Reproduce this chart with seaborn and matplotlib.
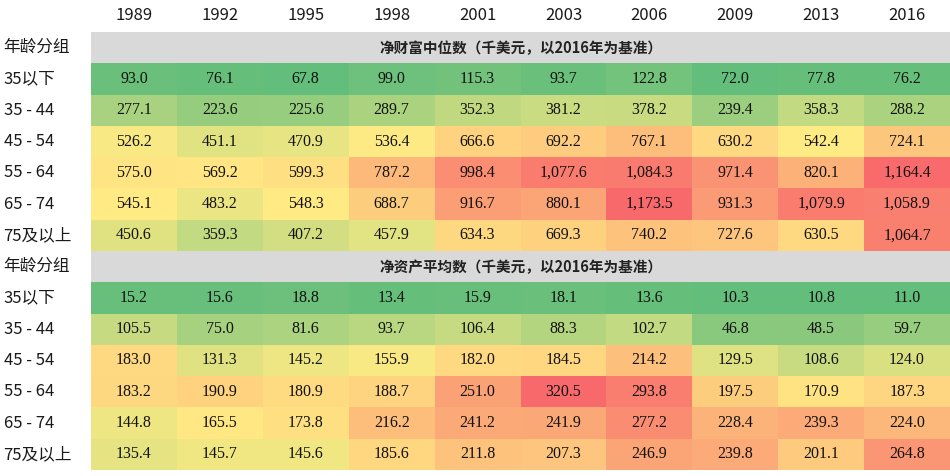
import numpy as np
import pandas as pd
import matplotlib
matplotlib.use("Agg")
import matplotlib.pyplot as plt
from matplotlib.colors import LinearSegmentedColormap, TwoSlopeNorm
import seaborn as sns

sns.set_theme(style="white")
plt.rcParams['font.family'] = ['Noto Sans CJK SC', 'DejaVu Sans']

years = ["1989", "1992", "1995", "1998", "2001", "2003", "2006", "2009", "2013", "2016"]
age_groups = ["35以下", "35 - 44", "45 - 54", "55 - 64", "65 - 74", "75及以上"]
group_header = "年龄分组"
title_1 = "净财富中位数（千美元，以2016年为基准）"
title_2 = "净资产平均数（千美元，以2016年为基准）"

section_1 = [
    [93.0, 76.1, 67.8, 99.0, 115.3, 93.7, 122.8, 72.0, 77.8, 76.2],
    [277.1, 223.6, 225.6, 289.7, 352.3, 381.2, 378.2, 239.4, 358.3, 288.2],
    [526.2, 451.1, 470.9, 536.4, 666.6, 692.2, 767.1, 630.2, 542.4, 724.1],
    [575.0, 569.2, 599.3, 787.2, 998.4, 1077.6, 1084.3, 971.4, 820.1, 1164.4],
    [545.1, 483.2, 548.3, 688.7, 916.7, 880.1, 1173.5, 931.3, 1079.9, 1058.9],
    [450.6, 359.3, 407.2, 457.9, 634.3, 669.3, 740.2, 727.6, 630.5, 1064.7],
]
section_2 = [
    [15.2, 15.6, 18.8, 13.4, 15.9, 18.1, 13.6, 10.3, 10.8, 11.0],
    [105.5, 75.0, 81.6, 93.7, 106.4, 88.3, 102.7, 46.8, 48.5, 59.7],
    [183.0, 131.3, 145.2, 155.9, 182.0, 184.5, 214.2, 129.5, 108.6, 124.0],
    [183.2, 190.9, 180.9, 188.7, 251.0, 320.5, 293.8, 197.5, 170.9, 187.3],
    [144.8, 165.5, 173.8, 216.2, 241.2, 241.9, 277.2, 228.4, 239.3, 224.0],
    [135.4, 145.7, 145.6, 185.6, 211.8, 207.3, 246.9, 239.8, 201.1, 264.8],
]

# stack both sections into one table, with empty header rows in between
nan_row = [np.nan] * len(years)
rows = [nan_row] + section_1 + [nan_row] + section_2
row_labels = [group_header] + age_groups + [group_header] + age_groups
table = pd.DataFrame(rows, index=range(len(rows)), columns=years)

n1 = len(section_1)
in_sec1 = np.zeros(table.shape, dtype=bool)
in_sec1[1:1 + n1, :] = True
in_sec2 = np.zeros(table.shape, dtype=bool)
in_sec2[2 + n1:, :] = True

# Excel-style 3 colour scale: green - yellow (median) - red
cmap = LinearSegmentedColormap.from_list("gyr", ["#63BE7B", "#FFEB84", "#F8696B"])

def make_norm(vals):
    v = np.array(vals).ravel()
    return TwoSlopeNorm(vmin=v.min(), vcenter=np.median(v), vmax=v.max())

fig = plt.figure(figsize=(9.5, 4.76), dpi=100)
ax = fig.add_axes([91 / 950, 6 / 476, 859 / 950, 438 / 476])
ax.set_facecolor("#D9D9D9")

annot_kws = {"family": "Liberation Serif", "size": 11.5, "color": "#111111"}
for mask_in, vals in [(in_sec1, section_1), (in_sec2, section_2)]:
    sns.heatmap(table, mask=~mask_in, cmap=cmap, norm=make_norm(vals),
                annot=True, fmt=",.1f", annot_kws=annot_kws,
                cbar=False, linewidths=0, ax=ax)

# section titles in the grey rows
for r, t in [(0, title_1), (1 + n1, title_2)]:
    ax.text(len(years) / 2, r + 0.5, t, ha="center", va="center",
            fontsize=10.5, fontweight="bold", color="#222222")

ax.xaxis.tick_top()
ax.set_xticks(np.arange(len(years)) + 0.5)
ax.set_xticklabels(years, fontsize=12, fontweight="medium", color="#1a1a1a")
ax.set_yticks(np.arange(len(rows)) + 0.5)
ax.set_yticklabels(row_labels, fontsize=12, color="#1a1a1a", rotation=0, ha="left")
ax.tick_params(axis="y", length=0, pad=63)
ax.tick_params(axis="x", length=0, pad=6)
ax.set_xlabel("")
ax.set_ylabel("")
for s in ax.spines.values():
    s.set_visible(False)

fig.savefig("out.png", dpi=100)
